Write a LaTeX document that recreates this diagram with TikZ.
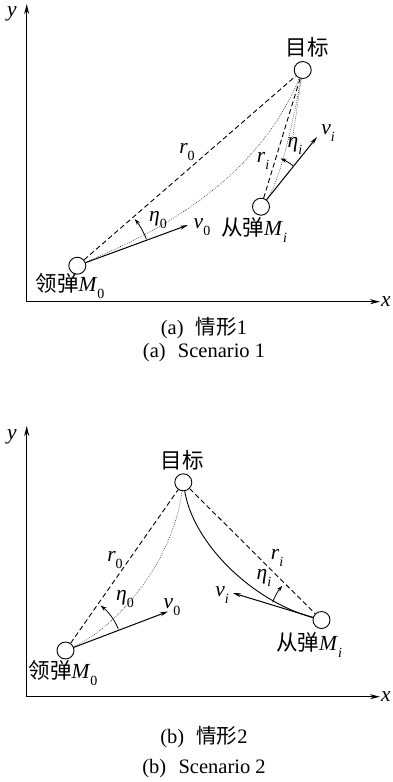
\documentclass[tikz,border=0pt]{standalone}
\usepackage{fontspec}
\setmainfont{Liberation Serif}
\newfontfamily\cjk{Noto Sans CJK SC}
\usetikzlibrary{arrows.meta}
\newcommand\symb[2]{\textit{#1}\raisebox{-0.3em}{\fontsize{14}{14}\selectfont #2}}
\begin{document}
\begin{tikzpicture}[x=1pt,y=-1pt,
  every node/.style={inner sep=0pt, font=\fontsize{21.5}{24}\selectfont},
  ball/.style={circle,draw,line width=0.9pt,minimum size=17pt,inner sep=0pt,fill=white},
  axisline/.style={line width=1.4pt,-{Stealth[length=10pt,width=5pt]}},
  vec/.style={line width=1pt,-{Stealth[length=8pt,width=4pt]}},
  angarrow/.style={line width=0.8pt,-{Stealth[length=6pt,width=4pt]}},
  los/.style={line width=0.9pt,dash pattern=on 5pt off 3pt},
  traj/.style={line width=0.5pt,dash pattern=on 0.7pt off 1.3pt},
  trajsolid/.style={line width=0.9pt},
  captxt/.style={font=\fontsize{20.5}{24}\selectfont}]
\useasboundingbox (0,0) rectangle (392,782);

% ---------------- panel (a) ----------------
\coordinate (O1) at (26.7,301.7);
\coordinate (Y1) at (26.7,4);
\coordinate (X1) at (380,301.7);
\draw[axisline] (O1) -- (Y1);
\draw[axisline] (O1) -- (X1);
\node (ylab1) at (12,14) {\textit{y}};
\node (xlab1) at (386,302) {\textit{x}};

\node[ball] (T1) at (302.7,70) {};
\node[ball] (L1) at (77.3,265.7) {};
\node[ball] (F1) at (261,206.7) {};
\node (tl1) at (307,47) {\cjk 目标};
\node (ll1) at (70,286) {{\cjk 领弹}\symb{M}{0}};
\node (fl1) at (254,230) {{\cjk 从弹}\symb{M}{\textit{i}}};

\draw[los] (L1) -- (T1);
\node (r01) at (187,152) {\symb{r}{0}};
\draw[traj] (L1) .. controls (150,235) and (255,185) .. (T1);
\coordinate (v0e1) at (188,225);
\draw[vec] (L1) -- (v0e1);
\node (v0l1) at (202,227) {\symb{v}{0}};
\draw[angarrow] ([shift={(21:74pt)}]L1.center) arc[start angle=21,end angle=39,radius=74pt];
\node (e01) at (158,220) {\symb{η}{0}};

\draw[los] (F1) -- (T1);
\node (ri1) at (263,161) {\symb{r}{\textit{i}}};
\draw[traj] (F1) .. controls (272,193) and (284,170) .. (T1);
\coordinate (d1) at (292,142);
\draw[traj] (T1) -- (d1);
\coordinate (vie1) at (317,137);
\draw[vec] (F1) -- (vie1);
\node (vil1) at (328,133) {\symb{v}{\textit{i}}};
\draw[angarrow] ([shift={(52:52pt)}]F1.center) arc[start angle=52,end angle=68,radius=52pt];
\node (ei1) at (295,146) {\symb{η}{\textit{i}}};

\node[captxt] (c1a) at (204,328) {(a)\hspace{0.6em}{\cjk 情形}1};
\node[captxt] (c1b) at (204,353) {(a)\hspace{0.6em}Scenario 1};

% ---------------- panel (b) ----------------
\coordinate (O2) at (26.7,696.7);
\coordinate (Y2) at (26.7,426);
\coordinate (X2) at (380,696.7);
\draw[axisline] (O2) -- (Y2);
\draw[axisline] (O2) -- (X2);
\node (ylab2) at (12,437) {\textit{y}};
\node (xlab2) at (386,697) {\textit{x}};

\node[ball] (T2) at (183.3,482.3) {};
\node[ball] (L2) at (65.5,650.5) {};
\node[ball] (F2) at (321.5,620) {};
\node (tl2) at (182,460) {\cjk 目标};
\node (ll2) at (63,673) {{\cjk 领弹}\symb{M}{0}};
\node (fl2) at (309,645) {{\cjk 从弹}\symb{M}{\textit{i}}};

\draw[los] (L2) -- (T2);
\node (r02) at (115,560) {\symb{r}{0}};
\draw[traj] (L2) .. controls (115,628) and (172,565) .. (T2);
\coordinate (v0e2) at (168,611.5);
\draw[vec] (L2) -- (v0e2);
\node (v0l2) at (172,607) {\symb{v}{0}};
\draw[angarrow] ([shift={(22:57pt)}]L2.center) arc[start angle=22,end angle=52,radius=57pt];
\node (e02) at (125,599) {\symb{η}{0}};

\draw[los] (T2) -- (F2);
\node (ri2) at (277,558) {\symb{r}{\textit{i}}};
\draw[trajsolid] (T2) .. controls (193,542) and (250,600) .. (F2);
\coordinate (vie2) at (233,593);
\draw[vec] (F2) -- (vie2);
\node (vil2) at (222,595) {\symb{v}{\textit{i}}};
\draw[angarrow] ([shift={(160:52pt)}]F2.center) arc[start angle=160,end angle=139,radius=52pt];
\node (ei2) at (264,578) {\symb{η}{\textit{i}}};

\node[captxt] (c2a) at (204,737) {(b)\hspace{0.6em}{\cjk 情形}2};
\node[captxt] (c2b) at (204,769) {(b)\hspace{0.6em}Scenario 2};
\end{tikzpicture}
\end{document}
